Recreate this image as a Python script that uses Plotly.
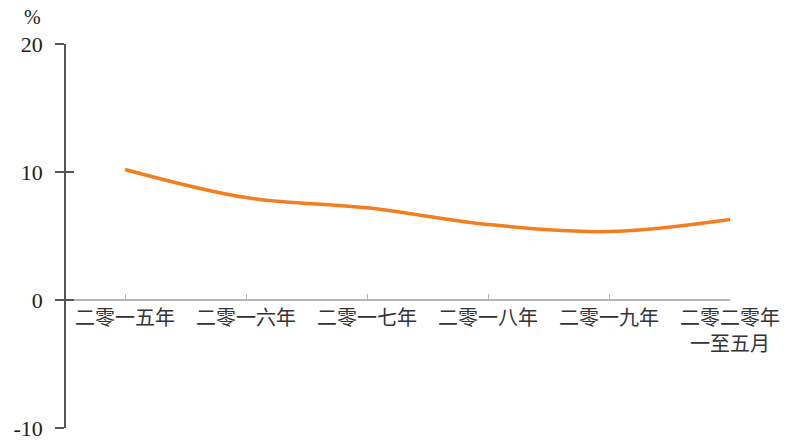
import plotly.graph_objects as go

# Annual growth rate (%)
categories = ["二零一五年", "二零一六年", "二零一七年", "二零一八年", "二零一九年", "二零二零年<br>一至五月"]
values = [10.2, 8.0, 7.2, 5.9, 5.35, 6.3]
y_ticks = [-10, 0, 10, 20]
y_tick_text = ["-10", "0", "10", "20"]

x_pos = list(range(len(categories)))
y_range = [-10, 20]
x_range = [-0.488, 5.0]

serif = "Liberation Serif, Times New Roman, serif"
cjk = "Noto Sans CJK SC, sans-serif"

fig = go.Figure()
fig.add_trace(go.Scatter(
    x=x_pos, y=values, mode="lines",
    line=dict(color="#F27E1E", width=3.5, shape="spline", smoothing=1.0),
    hoverinfo="skip", showlegend=False,
))
# invisible trace so the overlay axis (inner half of the y ticks) is drawn
fig.add_trace(go.Scatter(
    x=[x_pos[0]], y=[0], yaxis="y2", mode="markers",
    marker=dict(opacity=0), hoverinfo="skip", showlegend=False,
))

zero_pos = (0 - y_range[0]) / (y_range[1] - y_range[0])

fig.update_layout(
    width=788, height=444,
    margin=dict(l=66, r=58, t=44, b=16),
    paper_bgcolor="white", plot_bgcolor="white",
    xaxis=dict(
        range=x_range, tickvals=x_pos, ticktext=categories,
        anchor="free", position=zero_pos, automargin=False,
        showline=True, linecolor="#b4b4b4", linewidth=1.5,
        ticks="inside", ticklen=5, tickcolor="#b4b4b4", tickwidth=1,
        showgrid=False, zeroline=False,
        tickfont=dict(family=cjk, size=20, color="#333333"),
    ),
    yaxis=dict(
        range=y_range, tickvals=y_ticks, ticktext=y_tick_text, automargin=False,
        showline=True, linecolor="#555555", linewidth=1.5,
        ticks="outside", ticklen=9, tickcolor="#555555", tickwidth=1.5,
        ticklabelstandoff=8,
        showgrid=False, zeroline=False,
        tickfont=dict(family=serif, size=22, color="#222222"),
    ),
    yaxis2=dict(
        range=y_range, tickvals=y_ticks, overlaying="y", side="left", automargin=False,
        showline=False, ticks="inside", ticklen=8, tickcolor="#555555", tickwidth=1.5,
        showticklabels=False, showgrid=False, zeroline=False,
    ),
    annotations=[dict(
        text="%", xref="paper", yref="paper", x=-0.05, y=1.0,
        xanchor="center", yanchor="bottom", showarrow=False, yshift=14,
        font=dict(family=serif, size=20, color="#222222"),
    )],
)

fig.write_html("out.html")
